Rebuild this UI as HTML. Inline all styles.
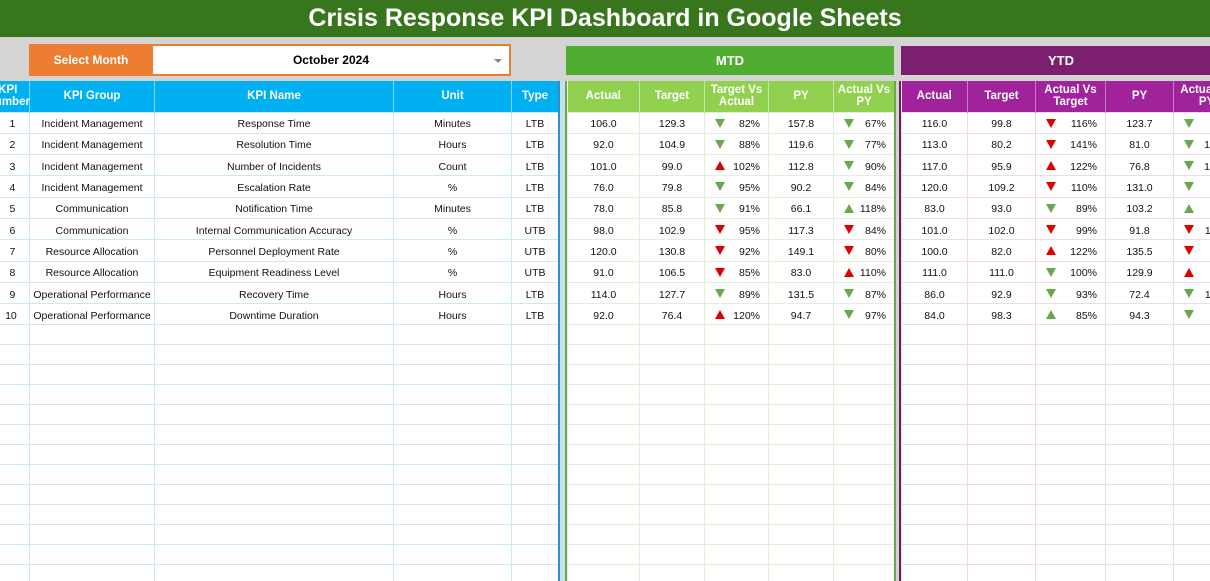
<!DOCTYPE html>
<html><head><meta charset="utf-8"><style>
*{margin:0;padding:0;box-sizing:border-box}
body{width:1210px;height:574px;overflow:hidden;background:#d4d4d4;font-family:"Liberation Sans",Arial,sans-serif;position:relative}
.title{position:absolute;left:0;top:0;width:1210px;height:37px;background:#38761d;color:#fff;font-weight:bold;font-size:25px;text-align:center;line-height:37px}
.sel{position:absolute;left:29px;top:44px;width:124px;height:32px;background:#ed7d31;color:#fff;font-weight:bold;font-size:12px;text-align:center;line-height:32px}
.dd{position:absolute;left:153px;top:44px;width:358px;height:32px;background:#fff;border:2px solid #ed7d31;border-left:none;font-weight:bold;font-size:12px;text-align:center;line-height:28px}
.dd:after{content:"";position:absolute;right:7px;top:13px;border-left:4px solid transparent;border-right:4px solid transparent;border-top:4px solid #888}
.hdr{position:absolute;top:46px;height:29px;color:#fff;font-weight:bold;font-size:13px;text-align:center;line-height:29px}
.box{position:absolute;top:81px;height:500px;background:#fff;overflow:hidden}
table{border-collapse:collapse;table-layout:fixed;font-size:10.5px;color:#111}
th{color:#fff;font-weight:bold;font-size:11.5px;height:31px;line-height:12px;text-align:center}
td{height:21.3px;text-align:center;white-space:nowrap;overflow:hidden;position:relative;padding-top:3px}
tr.e td{height:20px}
.L th{background:#00b0f0;border-right:1px solid #7fd6f7}
.L td{border:1px solid #cbe8f5}
.M th{background:#92d050;border-right:1px solid #c5e6a5}
.M td{border:1px solid #e3efd6}
.Y th{background:#a0239b;border-right:1px solid #c87ac4}
.Y td{border:1px solid #eed8ec}
.a{text-align:right;padding-right:8px}
.a i{position:absolute;left:10px;top:6px;width:0;height:0;border-left:5px solid transparent;border-right:5px solid transparent}
.dg{border-top:9px solid #6aa84f}.dr{border-top:9px solid #e00000}
.ug{border-bottom:9px solid #6aa84f}.ur{border-bottom:9px solid #e00000}
</style></head><body>
<div class="title">Crisis Response KPI Dashboard in Google Sheets</div>
<div class="sel">Select Month</div>
<div class="dd">October 2024</div>
<div class="hdr" style="left:566px;width:328px;background:#4fae32">MTD</div>
<div class="hdr" style="left:901px;width:320px;background:#7b1f6e">YTD</div>

<div class="box" style="left:0;width:560px;border-right:2px solid #2e8fd0">
<table class="L" style="margin-left:-14px;width:572px">
<colgroup><col style="width:43px"><col style="width:125px"><col style="width:239px"><col style="width:118px"><col style="width:47px"></colgroup>
<tr><th>KPI<br>Number</th><th>KPI Group</th><th>KPI Name</th><th>Unit</th><th>Type</th></tr>
<tr><td>&nbsp;&nbsp;&nbsp;1</td><td>Incident Management</td><td>Response Time</td><td>Minutes</td><td>LTB</td></tr>
<tr><td>&nbsp;&nbsp;&nbsp;2</td><td>Incident Management</td><td>Resolution Time</td><td>Hours</td><td>LTB</td></tr>
<tr><td>&nbsp;&nbsp;&nbsp;3</td><td>Incident Management</td><td>Number of Incidents</td><td>Count</td><td>LTB</td></tr>
<tr><td>&nbsp;&nbsp;&nbsp;4</td><td>Incident Management</td><td>Escalation Rate</td><td>%</td><td>LTB</td></tr>
<tr><td>&nbsp;&nbsp;&nbsp;5</td><td>Communication</td><td>Notification Time</td><td>Minutes</td><td>LTB</td></tr>
<tr><td>&nbsp;&nbsp;&nbsp;6</td><td>Communication</td><td>Internal Communication Accuracy</td><td>%</td><td>UTB</td></tr>
<tr><td>&nbsp;&nbsp;&nbsp;7</td><td>Resource Allocation</td><td>Personnel Deployment Rate</td><td>%</td><td>UTB</td></tr>
<tr><td>&nbsp;&nbsp;&nbsp;8</td><td>Resource Allocation</td><td>Equipment Readiness Level</td><td>%</td><td>UTB</td></tr>
<tr><td>&nbsp;&nbsp;&nbsp;9</td><td>Operational Performance</td><td>Recovery Time</td><td>Hours</td><td>LTB</td></tr>
<tr><td>&nbsp;&nbsp;10</td><td>Operational Performance</td><td>Downtime Duration</td><td>Hours</td><td>LTB</td></tr>
<tr class="e"><td></td><td></td><td></td><td></td><td></td></tr><tr class="e"><td></td><td></td><td></td><td></td><td></td></tr><tr class="e"><td></td><td></td><td></td><td></td><td></td></tr><tr class="e"><td></td><td></td><td></td><td></td><td></td></tr><tr class="e"><td></td><td></td><td></td><td></td><td></td></tr><tr class="e"><td></td><td></td><td></td><td></td><td></td></tr><tr class="e"><td></td><td></td><td></td><td></td><td></td></tr><tr class="e"><td></td><td></td><td></td><td></td><td></td></tr><tr class="e"><td></td><td></td><td></td><td></td><td></td></tr><tr class="e"><td></td><td></td><td></td><td></td><td></td></tr><tr class="e"><td></td><td></td><td></td><td></td><td></td></tr><tr class="e"><td></td><td></td><td></td><td></td><td></td></tr><tr class="e"><td></td><td></td><td></td><td></td><td></td></tr>
</table></div>
<div style="position:absolute;left:560px;top:81px;width:5px;height:500px;background:#c9dfe6"></div>

<div class="box" style="left:565px;width:331px;border-left:2px solid #6aa84f;border-right:2px solid #6aa84f">
<table class="M" style="width:327px">
<colgroup><col style="width:72px"><col style="width:65px"><col style="width:64px"><col style="width:65px"><col style="width:61px"></colgroup>
<tr><th>Actual</th><th>Target</th><th>Target Vs<br>Actual</th><th>PY</th><th>Actual Vs<br>PY</th></tr>
<tr><td>106.0</td><td>129.3</td><td class="a"><i class="dg"></i>82%</td><td>157.8</td><td class="a"><i class="dg"></i>67%</td></tr>
<tr><td>92.0</td><td>104.9</td><td class="a"><i class="dg"></i>88%</td><td>119.6</td><td class="a"><i class="dg"></i>77%</td></tr>
<tr><td>101.0</td><td>99.0</td><td class="a"><i class="ur"></i>102%</td><td>112.8</td><td class="a"><i class="dg"></i>90%</td></tr>
<tr><td>76.0</td><td>79.8</td><td class="a"><i class="dg"></i>95%</td><td>90.2</td><td class="a"><i class="dg"></i>84%</td></tr>
<tr><td>78.0</td><td>85.8</td><td class="a"><i class="dg"></i>91%</td><td>66.1</td><td class="a"><i class="ug"></i>118%</td></tr>
<tr><td>98.0</td><td>102.9</td><td class="a"><i class="dr"></i>95%</td><td>117.3</td><td class="a"><i class="dr"></i>84%</td></tr>
<tr><td>120.0</td><td>130.8</td><td class="a"><i class="dr"></i>92%</td><td>149.1</td><td class="a"><i class="dr"></i>80%</td></tr>
<tr><td>91.0</td><td>106.5</td><td class="a"><i class="dr"></i>85%</td><td>83.0</td><td class="a"><i class="ur"></i>110%</td></tr>
<tr><td>114.0</td><td>127.7</td><td class="a"><i class="dg"></i>89%</td><td>131.5</td><td class="a"><i class="dg"></i>87%</td></tr>
<tr><td>92.0</td><td>76.4</td><td class="a"><i class="ur"></i>120%</td><td>94.7</td><td class="a"><i class="dg"></i>97%</td></tr>
<tr class="e"><td></td><td></td><td></td><td></td><td></td></tr><tr class="e"><td></td><td></td><td></td><td></td><td></td></tr><tr class="e"><td></td><td></td><td></td><td></td><td></td></tr><tr class="e"><td></td><td></td><td></td><td></td><td></td></tr><tr class="e"><td></td><td></td><td></td><td></td><td></td></tr><tr class="e"><td></td><td></td><td></td><td></td><td></td></tr><tr class="e"><td></td><td></td><td></td><td></td><td></td></tr><tr class="e"><td></td><td></td><td></td><td></td><td></td></tr><tr class="e"><td></td><td></td><td></td><td></td><td></td></tr><tr class="e"><td></td><td></td><td></td><td></td><td></td></tr><tr class="e"><td></td><td></td><td></td><td></td><td></td></tr><tr class="e"><td></td><td></td><td></td><td></td><td></td></tr><tr class="e"><td></td><td></td><td></td><td></td><td></td></tr>
</table></div>

<div class="box" style="left:899px;width:340px;border-left:2px solid #6b1e5e">
<table class="Y" style="width:338px">
<colgroup><col style="width:66px"><col style="width:68px"><col style="width:70px"><col style="width:68px"><col style="width:66px"></colgroup>
<tr><th>Actual</th><th>Target</th><th>Actual Vs<br>Target</th><th>PY</th><th>Actual Vs<br>PY</th></tr>
<tr><td>116.0</td><td>99.8</td><td class="a"><i class="dr"></i>116%</td><td>123.7</td><td class="a"><i class="dg"></i>94%</td></tr>
<tr><td>113.0</td><td>80.2</td><td class="a"><i class="dr"></i>141%</td><td>81.0</td><td class="a"><i class="dg"></i>140%</td></tr>
<tr><td>117.0</td><td>95.9</td><td class="a"><i class="ur"></i>122%</td><td>76.8</td><td class="a"><i class="dg"></i>152%</td></tr>
<tr><td>120.0</td><td>109.2</td><td class="a"><i class="dr"></i>110%</td><td>131.0</td><td class="a"><i class="dg"></i>92%</td></tr>
<tr><td>83.0</td><td>93.0</td><td class="a"><i class="dg"></i>89%</td><td>103.2</td><td class="a"><i class="ug"></i>80%</td></tr>
<tr><td>101.0</td><td>102.0</td><td class="a"><i class="dr"></i>99%</td><td>91.8</td><td class="a"><i class="dr"></i>110%</td></tr>
<tr><td>100.0</td><td>82.0</td><td class="a"><i class="ur"></i>122%</td><td>135.5</td><td class="a"><i class="dr"></i>74%</td></tr>
<tr><td>111.0</td><td>111.0</td><td class="a"><i class="dg"></i>100%</td><td>129.9</td><td class="a"><i class="ur"></i>85%</td></tr>
<tr><td>86.0</td><td>92.9</td><td class="a"><i class="dg"></i>93%</td><td>72.4</td><td class="a"><i class="dg"></i>119%</td></tr>
<tr><td>84.0</td><td>98.3</td><td class="a"><i class="ug"></i>85%</td><td>94.3</td><td class="a"><i class="dg"></i>89%</td></tr>
<tr class="e"><td></td><td></td><td></td><td></td><td></td></tr><tr class="e"><td></td><td></td><td></td><td></td><td></td></tr><tr class="e"><td></td><td></td><td></td><td></td><td></td></tr><tr class="e"><td></td><td></td><td></td><td></td><td></td></tr><tr class="e"><td></td><td></td><td></td><td></td><td></td></tr><tr class="e"><td></td><td></td><td></td><td></td><td></td></tr><tr class="e"><td></td><td></td><td></td><td></td><td></td></tr><tr class="e"><td></td><td></td><td></td><td></td><td></td></tr><tr class="e"><td></td><td></td><td></td><td></td><td></td></tr><tr class="e"><td></td><td></td><td></td><td></td><td></td></tr><tr class="e"><td></td><td></td><td></td><td></td><td></td></tr><tr class="e"><td></td><td></td><td></td><td></td><td></td></tr><tr class="e"><td></td><td></td><td></td><td></td><td></td></tr>
</table></div>
</body></html>
